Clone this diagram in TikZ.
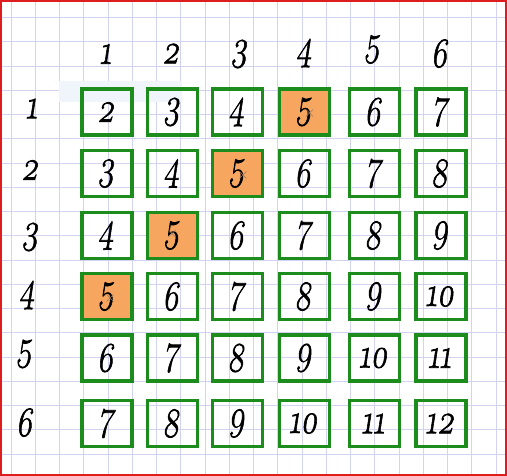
\documentclass[tikz,border=0pt]{standalone}
\usepackage{fontspec}
\newfontfamily\dgf[Numbers=OldStyle,FakeBold=1.8]{Latin Modern Roman}
\definecolor{boxgreen}{RGB}{28,140,28}
\definecolor{hotorange}{RGB}{247,166,95}
\definecolor{gridblue}{RGB}{210,210,242}
\definecolor{framered}{RGB}{222,30,30}
\definecolor{ghost}{RGB}{240,245,252}
\definecolor{markc}{RGB}{150,120,95}
\newcommand\dgfont{\fontsize{42}{42}\dgf}
\begin{document}
\begin{tikzpicture}[x=1pt,y=-1pt,
  gridline/.style={draw=gridblue,line width=0.6pt},
  box/.style={draw=boxgreen,line width=3.6pt,minimum width=50pt,minimum height=46pt,inner sep=0pt},
  dig/.style={inner sep=0pt,xscale=0.76,xslant=0.2,font=\dgfont,text=black},
  xmark/.style={draw=markc,line width=0.5pt}]
\useasboundingbox (0,0) rectangle (507,476);
\fill[white] (0,0) rectangle (507,476);
% graph paper
\foreach \i in {0,...,20} \draw[gridline] ({11+24.25*\i},0) -- ({11+24.25*\i},476);
\foreach \j in {0,...,18} \draw[gridline] (0,{17.5+24.25*\j}) -- (507,{17.5+24.25*\j});
% faint ghost panel
\fill[ghost] (59,81) rectangle (182,102);
% column headers
\node[dig] (c1) at (107,54) {1};
\node[dig] (c2) at (172,53.5) {2};
\node[dig] (c3) at (240,54) {3};
\node[dig] (c4) at (305,53) {4};
\node[dig] (c5) at (373,49.5) {5};
\node[dig] (c6) at (441,53.5) {6};
% row headers
\node[dig] (r1) at (33,108.5) {1};
\node[dig] (r2) at (31,170) {2};
\node[dig] (r3) at (31,237) {3};
\node[dig] (r4) at (28,295) {4};
\node[dig] (r5) at (25,354) {5};
\node[dig] (r6) at (26,422.5) {6};
% table
\def\colx{{107,172.5,237.5,304.5,374.5,441}}
\def\rowy{{112,173.5,235.5,296.5,358,423.5}}
\foreach \r in {1,...,6}{
  \foreach \c in {1,...,6}{
    \pgfmathsetmacro\xx{\colx[\c-1]}
    \pgfmathsetmacro\yy{\rowy[\r-1]}
    \pgfmathtruncatemacro\v{\r+\c}
    \ifnum\v=5 \def\fc{hotorange}\else\def\fc{none}\fi
    \node[box,fill=\fc] (b\r\c) at (\xx,\yy) {};
    \node[dig] (t\r\c) at (b\r\c) {\v};
  }
}
% small marks on the highlighted cells
\path (b14) ++(5,1) coordinate (m14);
\path (b23) ++(5.5,1.5) coordinate (m23);
\path (b32) ++(-0.5,-2) coordinate (m32);
\path (b41) ++(3,1.5) coordinate (m41);
\foreach \m in {m14,m23,m32,m41}
  \draw[xmark] (\m) +(-3.5,-3.5) -- +(3.5,3.5) (\m) +(-3.5,3.5) -- +(3.5,-3.5);
% red frame
\draw[framered,line width=2pt] (1,1) rectangle (505.5,475);
\end{tikzpicture}
\end{document}
